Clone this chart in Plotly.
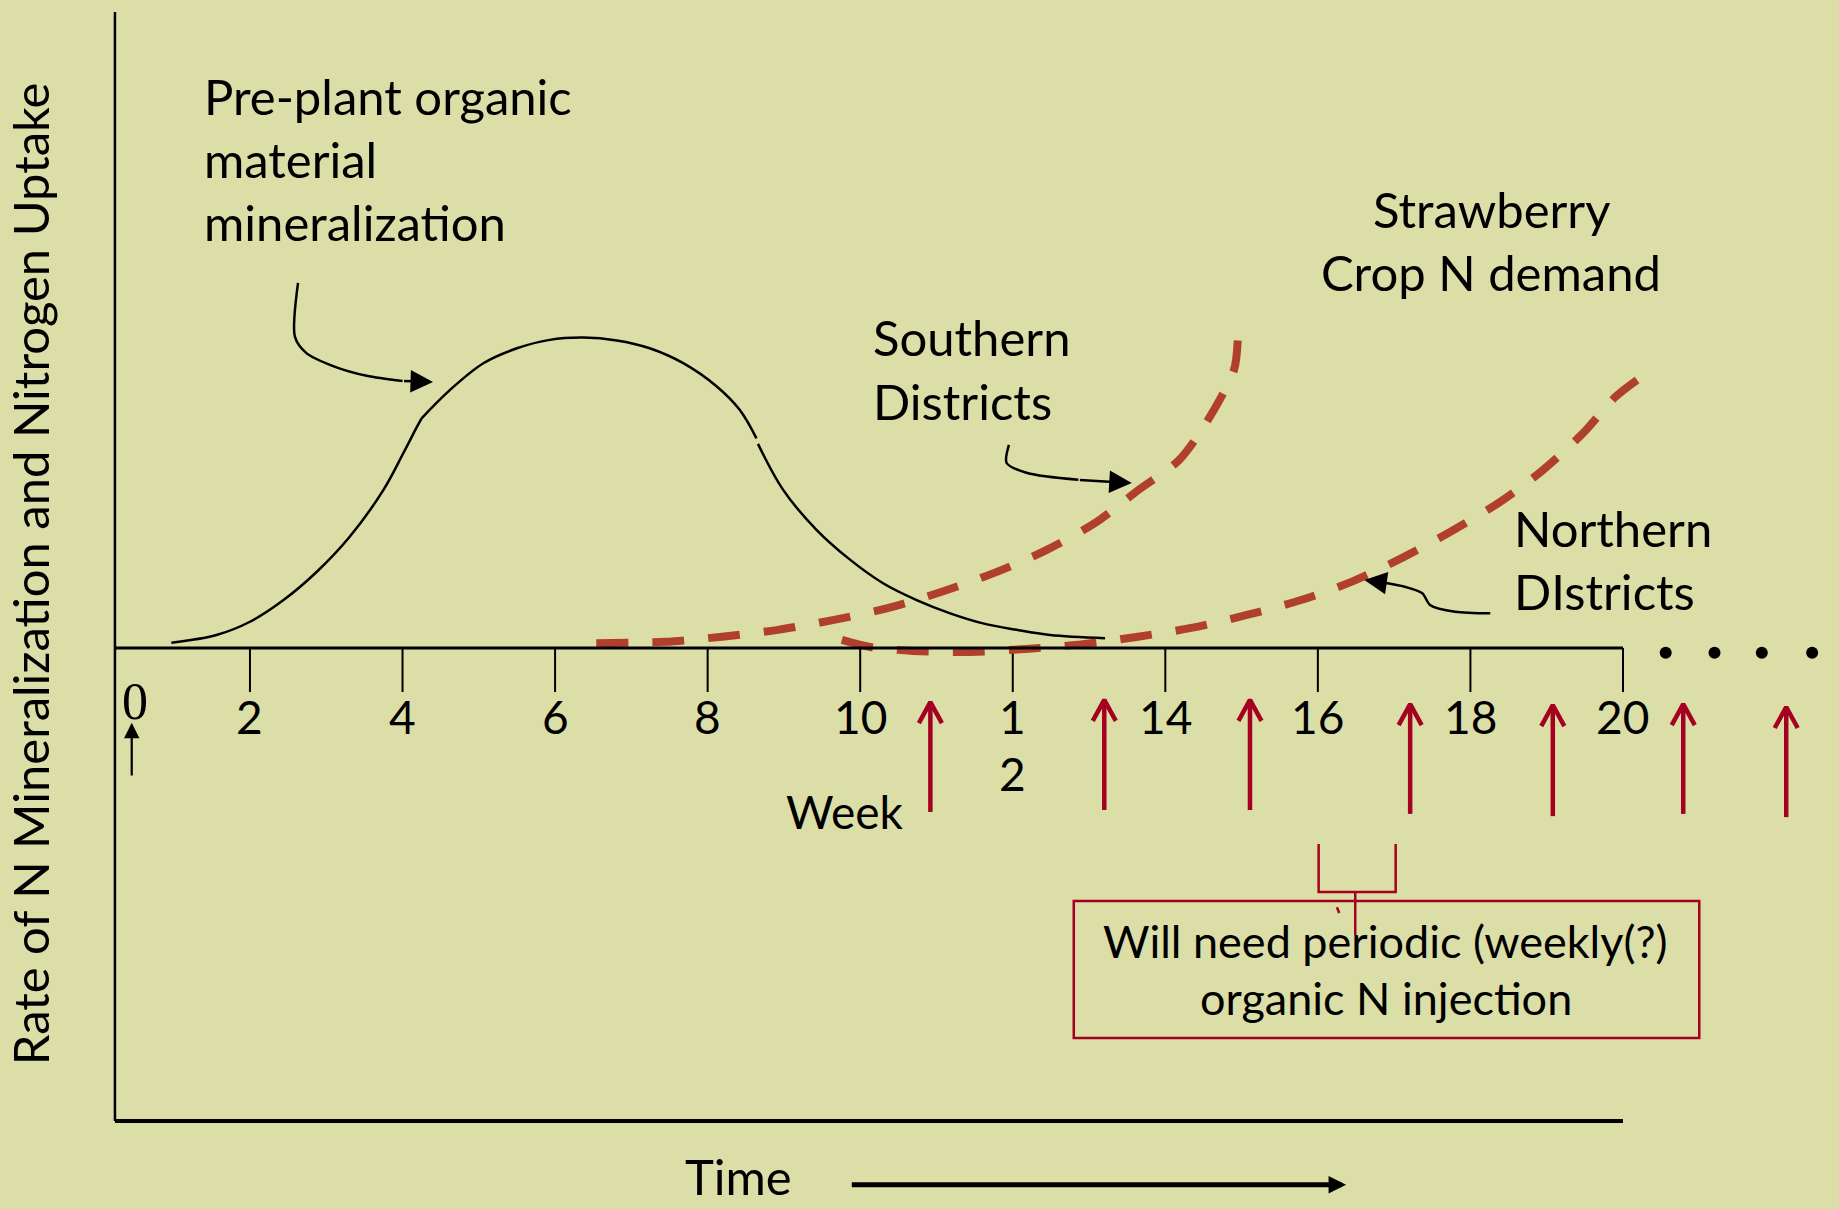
import plotly.graph_objects as go

# ---- data (weeks on x, relative rate on y; 0 = time axis) ----
mineral_weeks = [0.97, 1.56, 2.00, 2.44, 2.88, 3.31, 3.75, 4.01, 4.19, 4.25, None,
                 4.25, 4.62, 5.06, 5.50, 5.93, 6.37, 6.81, 7.24, 7.68, 8.12, 8.42, 8.64, None,
                 8.66, 8.99, 9.43, 9.87, 10.30, 10.74, 11.18, 11.61, 12.05, 12.49, 13.21]
mineral_rate = [0.16, 0.40, 0.81, 1.48, 2.36, 3.44, 4.88, 6.01, 6.83, 7.09, None,
                7.09, 7.96, 8.79, 9.25, 9.51, 9.58, 9.49, 9.25, 8.79, 8.07, 7.35, 6.47, None,
                6.30, 4.88, 3.64, 2.72, 2.00, 1.48, 1.07, 0.76, 0.56, 0.40, 0.30]

south_weeks = [6.54, 7.45, 8.19, 8.92, 9.64, 10.36, 11.06, 11.75, 12.44,
               13.08, 13.65, 14.18, 14.56, 14.90, 14.95]
south_rate = [0.15, 0.19, 0.35, 0.56, 0.86, 1.23, 1.73, 2.31, 3.02,
              3.86, 4.88, 5.80, 7.04, 8.58, 9.51]

north_weeks = [9.76, 10.13, 10.69, 11.44, 12.17, 12.92, 13.62, 14.34, 15.07,
               15.78, 16.47, 17.13, 17.71, 18.37, 18.95, 19.48, 19.90, 20.20]
north_rate = [0.25, 0.03, -0.09, -0.12, -0.03, 0.12, 0.34, 0.62, 1.02,
              1.48, 2.07, 2.81, 3.55, 4.48, 5.49, 6.64, 7.75, 8.30]

tick_weeks = [2, 4, 6, 8, 10, 12, 14, 16, 18, 20]
tick_labels = ["2", "4", "6", "8", "10", "1<br>2", "14", "16", "18", "20"]

# organic N injection arrows
inject_weeks = [10.92, 13.20, 15.11, 17.21, 19.08, 20.79, 22.14]
inject_top = [-1.67, -1.60, -1.60, -1.73, -1.76, -1.73, -1.82]
inject_bottom = [-5.06, -5.00, -5.00, -5.12, -5.19, -5.12, -5.22]

dots_weeks = [20.56, 21.20, 21.82, 22.48]

# callout arrows (last point is the arrow tip)
callout_preplant = ([2.63, 2.59, 2.74, 3.09, 3.53, 4.00, 4.40],
                    [11.27, 9.60, 9.10, 8.70, 8.40, 8.24, 8.21])
callout_south = ([11.95, 11.92, 12.19, 12.86, 13.56],
                 [6.27, 5.71, 5.40, 5.19, 5.09])
callout_north = ([18.26, 17.80, 17.47, 17.37, 17.14, 16.85, 16.61],
                 [1.07, 1.12, 1.33, 1.69, 1.89, 2.02, 2.10])

# ---- style ----
BG = "#DBDEA6"
FONT = "Lato"
FS = 49
RED = "#B0402D"
CRIMSON = "#A50021"
X_RANGE = [-1.277, 22.832]
Y_RANGE = [-17.315, 20.0]
AXIS_X0, AXIS_X1 = 0.23, 20.0
AXIS_TOP, AXIS_BOTTOM = 19.63, -14.60
TICK_LEN = 1.36

fig = go.Figure()

# ticks on the time axis
tx, ty = [], []
for t in tick_weeks:
    tx += [t, t, None]
    ty += [0, -TICK_LEN, None]
fig.add_trace(go.Scatter(x=tx, y=ty, mode="lines",
                         line=dict(color="black", width=2), hoverinfo="skip"))

# mineralization curve
fig.add_trace(go.Scatter(x=mineral_weeks, y=mineral_rate, mode="lines",
                         line=dict(color="black", width=2.5, shape="spline", smoothing=1.0),
                         connectgaps=False, hoverinfo="skip"))

# crop N demand curves
for wk, rt in [(south_weeks, south_rate), (north_weeks, north_rate)]:
    fig.add_trace(go.Scatter(x=wk, y=rt, mode="lines",
                             line=dict(color=RED, width=8, dash="32px,24px",
                                       shape="spline", smoothing=0.8),
                             hoverinfo="skip"))

# injection arrows (shaft + open chevron)
ax_, ay_ = [], []
for w, top, bot in zip(inject_weeks, inject_top, inject_bottom):
    ax_ += [w, w, None, w - 0.151, w, w + 0.151, None]
    ay_ += [bot, top, None, top - 0.65, top, top - 0.65, None]
fig.add_trace(go.Scatter(x=ax_, y=ay_, mode="lines",
                         line=dict(color=CRIMSON, width=4.5), hoverinfo="skip"))

# continuation dots
fig.add_trace(go.Scatter(x=dots_weeks, y=[-0.15] * len(dots_weeks), mode="markers",
                         marker=dict(color="black", size=12), hoverinfo="skip"))

# callouts
for cx, cy in [callout_preplant, callout_south, callout_north]:
    fig.add_trace(go.Scatter(x=cx[:-1], y=cy[:-1], mode="lines",
                             line=dict(color="black", width=2.5, shape="spline", smoothing=0.8),
                             hoverinfo="skip"))
    fig.add_annotation(x=cx[-1], y=cy[-1], ax=cx[-2], ay=cy[-2], axref="x", ayref="y",
                       showarrow=True, arrowhead=2, arrowsize=1.8, arrowwidth=2.5,
                       arrowcolor="black", text="")

# bracket under weeks 16-17
fig.add_trace(go.Scatter(x=[16.01, 16.01, 17.02, 17.02, None, 16.49, 16.49, None, 16.25, 16.28],
                         y=[-6.05, -7.53, -7.53, -6.05, None, -7.53, -8.86, None, -8.0, -8.18],
                         mode="lines", line=dict(color=CRIMSON, width=2.5), hoverinfo="skip"))

# frame
fig.add_shape(type="line", x0=AXIS_X0, x1=AXIS_X0, y0=AXIS_TOP, y1=AXIS_BOTTOM,
              line=dict(color="black", width=2.5))
fig.add_shape(type="line", x0=AXIS_X0, x1=AXIS_X1, y0=0, y1=0,
              line=dict(color="black", width=3))
fig.add_shape(type="line", x0=AXIS_X0, x1=AXIS_X1, y0=AXIS_BOTTOM, y1=AXIS_BOTTOM,
              line=dict(color="black", width=4))
fig.add_shape(type="rect", x0=12.80, x1=21.00, y0=-7.81, y1=-12.04,
              line=dict(color=CRIMSON, width=2.5))


def text(x, y, s, xanchor="left", size=FS, family=FONT, yanchor="middle", **kw):
    fig.add_annotation(x=x, y=y, text=s, showarrow=False, xanchor=xanchor, yanchor=yanchor,
                       font=dict(family=family, size=size, color="black"), **kw)


# tick labels (wrapped labels stacked line by line)
for t, lab in zip(tick_weeks, tick_labels):
    for i, part in enumerate(lab.split("<br>")):
        text(t, -2.12 - i * 1.76, part, xanchor="center", size=46)
text(0.49, -1.64, "0", xanchor="center", size=52, family="Liberation Serif")
fig.add_annotation(x=0.45, y=-2.31, ax=0.45, ay=-3.98, axref="x", ayref="y",
                   showarrow=True, arrowhead=2, arrowsize=1.4, arrowwidth=2.2,
                   arrowcolor="black", text="")

for i, s in enumerate(["Pre-plant organic", "material", "mineralization"]):
    text(1.37, 17.05 - i * 1.955, s)
for i, s in enumerate(["Strawberry", "Crop N demand"]):
    text(18.27, 13.55 - i * 1.96, s, xanchor="center")
for i, s in enumerate(["Southern", "Districts"]):
    text(10.14, 9.61 - i * 1.99, s)
for i, s in enumerate(["Northern", "DIstricts"]):
    text(18.54, 3.70 - i * 1.95, s)
for i, s in enumerate(["Will need periodic (weekly(?)", "organic N injection"]):
    text(16.89, -9.03 - i * 1.77, s, xanchor="center", size=45)

text(9.80, -5.05, "Week", xanchor="center", size=46)
text(8.40, -16.31, "Time", xanchor="center")
fig.add_annotation(x=16.37, y=-16.57, ax=9.87, ay=-16.57, axref="x", ayref="y",
                   showarrow=True, arrowhead=2, arrowsize=0.7, arrowwidth=5,
                   arrowcolor="black", text="")
text(-0.884, 2.31, "Rate of N Mineralization and Nitrogen Uptake", xanchor="center",
     textangle=-90)

fig.update_layout(
    width=1839, height=1209,
    margin=dict(l=0, r=0, t=0, b=0),
    paper_bgcolor=BG, plot_bgcolor=BG,
    showlegend=False,
    xaxis=dict(range=X_RANGE, visible=False, fixedrange=True),
    yaxis=dict(range=Y_RANGE, visible=False, fixedrange=True),
)

fig.write_html("out.html", config={"displayModeBar": False},
               post_script="document.body.style.margin='0';")
